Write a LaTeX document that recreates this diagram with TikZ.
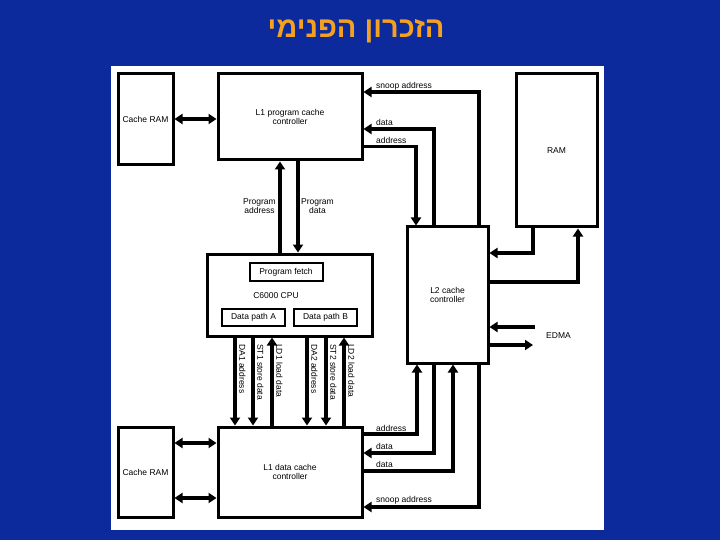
\documentclass[tikz,border=0pt]{standalone}
\usepackage{fontspec}
\setmainfont{Liberation Sans}
\newfontfamily\hebfont[Script=Hebrew]{Liberation Sans}
\TeXXeTstate=1
\usepackage{tikz}
\usetikzlibrary{arrows.meta,positioning}
\definecolor{slide}{HTML}{0C2A9C}
\definecolor{titleor}{HTML}{F4A122}
\newcommand{\diagfont}{\fontsize{8.5}{9.5}\selectfont}
\tikzset{
  box/.style={draw=black,fill=white,line width=3pt,inner sep=1pt,align=center,
    font=\diagfont},
  subbox/.style={draw=black,fill=white,line width=2pt,inner sep=1pt,align=center,
    font=\diagfont},
  bus/.style={-{Triangle[length=8pt,width=10pt]},line width=3.4pt},
  dbus/.style={{Triangle[length=8pt,width=10pt]}-{Triangle[length=8pt,width=10pt]},
    line width=3.4pt},
  tag/.style={font=\diagfont,inner sep=1pt},
  vtag/.style={font=\diagfont,inner sep=1pt,rotate=-90,anchor=south west}
}

\begin{document}
\begin{tikzpicture}[x=1pt,y=-1pt]
  \fill[slide] (0,0) rectangle (720,540);
  \useasboundingbox (0,0) rectangle (720,540);
  \fill[white] (111,66) rectangle (604,530);
  % title
  \node[font=\hebfont\bfseries\fontsize{29}{31}\selectfont,text=titleor] (title) at (356,31) {\beginR הזכרון הפנימי\endR};

  % blocks
  \node[box,minimum width=55,minimum height=91] (cramP) at (145.5,119.5) {Cache RAM};
  \node[box,minimum width=144,minimum height=86] (l1p) at (290,117) {L1 program cache\\controller};
  \node[box,minimum width=81,minimum height=153] (ram) at (556.5,150.5) {RAM};
  \node[box,minimum width=165,minimum height=82] (cpu) at (289.5,295) {};
  \node[subbox,minimum width=73,minimum height=18] (fetch) at (286,272) {Program fetch};
  \node[tag] (cpuLbl) at (276,296) {C6000 CPU};
  \node[subbox,minimum width=63,minimum height=17] (dpA) at (253.5,317.5) {Data path A};
  \node[subbox,minimum width=63,minimum height=17] (dpB) at (325.5,317.5) {Data path B};
  \node[box,minimum width=81,minimum height=136] (l2) at (447.5,295) {L2 cache\\controller};
  \node[box,minimum width=55,minimum height=90] (cramD) at (145.5,472) {Cache RAM};
  \node[box,minimum width=144,minimum height=90] (l1d) at (290,472) {L1 data cache\\controller};

  % cache RAM links
  \coordinate (cpl) at (195,119);
  \coordinate (cdl1) at (195,443);
  \coordinate (cdl2) at (195,498);
  \draw[dbus] (cramP.east |- cpl) -- (l1p.west |- cpl);
  \draw[dbus] (cramD.east |- cdl1) -- (l1d.west |- cdl1);
  \draw[dbus] (cramD.east |- cdl2) -- (l1d.west |- cdl2);

  % L1P <-> L2
  \coordinate (snpP) at (479,92);
  \coordinate (datP) at (434,129);
  \coordinate (adrP) at (416,146.5);
  \draw[bus] (l2.north -| snpP) -- (snpP) -- (l1p.east |- snpP);
  \draw[bus] (l2.north -| datP) -- (datP) -- (l1p.east |- datP);
  \draw[bus] (l1p.east |- adrP) -- (adrP) -- (l2.north -| adrP);
  \node[tag,anchor=west] (snpPLbl) at (375,86) {snoop address};
  \node[tag,anchor=west] (datPLbl) at (375,122) {data};
  \node[tag,anchor=west] (adrPLbl) at (375,140) {address};

  % L1P <-> CPU
  \coordinate (pa) at (280,205);
  \coordinate (pd) at (298,205);
  \draw[bus] (cpu.north -| pa) -- (l1p.south -| pa);
  \draw[bus] (l1p.south -| pd) -- (cpu.north -| pd);
  \node[tag,anchor=east,align=center] (paLbl) at (277,206) {Program\\address};
  \node[tag,anchor=west,align=center] (pdLbl) at (300,206) {Program\\data};

  % RAM <-> L2
  \coordinate (ramIn) at (533,253);
  \coordinate (ramOut) at (578,282);
  \draw[bus] (ram.south -| ramIn) -- (ramIn) -- (l2.east |- ramIn);
  \draw[bus] (l2.east |- ramOut) -- (ramOut) -- (ram.south -| ramOut);

  % EDMA
  \coordinate (edmaIn) at (535,327);
  \coordinate (edmaOut) at (533,345);
  \draw[bus] (edmaIn) -- (l2.east |- edmaIn);
  \draw[bus] (l2.east |- edmaOut) -- (edmaOut);
  \node[tag,anchor=west] (edmaLbl) at (545,336) {EDMA};

  % CPU <-> L1D
  \foreach \bx/\lab in {235/DA1 address,253/ST1 store data,307/DA2 address,326/ST2 store data}{
    \coordinate (bd) at (\bx,380);
    \draw[bus] (cpu.south -| bd) -- (l1d.north -| bd);
    \node[vtag] (lbl\bx) at (\bx+3,343) {\lab};
  }
  \foreach \bx/\lab in {272/LD1 load data,344/LD2 load data}{
    \coordinate (bu) at (\bx,380);
    \draw[bus] (l1d.north -| bu) -- (cpu.south -| bu);
    \node[vtag] (lbl\bx) at (\bx+3,343) {\lab};
  }

  % L1D <-> L2
  \coordinate (adrD) at (417,434);
  \coordinate (datD1) at (434,453);
  \coordinate (datD2) at (453,471);
  \coordinate (snpD) at (479,507);
  \draw[bus] (l1d.east |- adrD) -- (adrD) -- (l2.south -| adrD);
  \draw[bus] (l2.south -| datD1) -- (datD1) -- (l1d.east |- datD1);
  \draw[bus] (l1d.east |- datD2) -- (datD2) -- (l2.south -| datD2);
  \draw[bus] (l2.south -| snpD) -- (snpD) -- (l1d.east |- snpD);
  \node[tag,anchor=west] (adrDLbl) at (375,428) {address};
  \node[tag,anchor=west] (datD1Lbl) at (375,446) {data};
  \node[tag,anchor=west] (datD2Lbl) at (375,464) {data};
  \node[tag,anchor=west] (snpDLbl) at (375,500) {snoop address};
\end{tikzpicture}
\end{document}
